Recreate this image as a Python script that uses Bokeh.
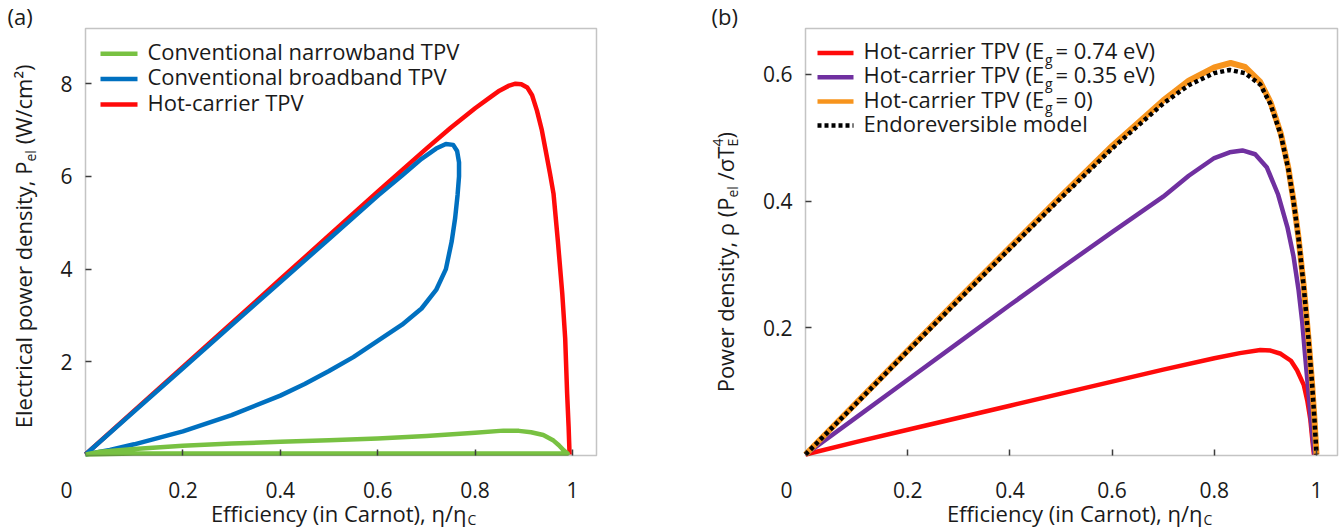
from bokeh.plotting import figure
from bokeh.models import (Label, Range1d, FixedTicker, NumeralTickFormatter, LinearAxis,
                          BoxAnnotation, Arrow)
from bokeh.layouts import row
from bokeh.embed import file_html
from bokeh.resources import INLINE

FONT = "Open Sans"
TXT = "#1a1a1a"
AXC = "#3d3d3d"

# ---------------- Panel (a) data ----------------
hot_x = [0, 0.1, 0.2, 0.3, 0.4, 0.5, 0.6, 0.7, 0.75, 0.8, 0.83, 0.85, 0.87, 0.883, 0.895,
         0.907, 0.917, 0.927, 0.937, 0.946, 0.954, 0.961, 0.970, 0.979, 0.985, 0.989, 0.992, 0.994]
hot_y = [0, 0.945, 1.89, 2.835, 3.78, 4.725, 5.67, 6.6, 7.05, 7.47, 7.7, 7.85, 7.96, 8.0, 7.99,
         7.92, 7.75, 7.42, 7.0, 6.5, 6.05, 5.63, 4.6, 3.47, 2.5, 1.31, 0.6, 0.0]

broad_x = [0, 0.1, 0.2, 0.3, 0.4, 0.5, 0.6, 0.65, 0.69, 0.72, 0.74, 0.755, 0.763, 0.767, 0.767,
           0.764, 0.759, 0.752, 0.74, 0.72, 0.69, 0.65, 0.6, 0.55, 0.5, 0.45, 0.4, 0.3, 0.2, 0.1, 0.05, 0]
broad_y = [0, 0.93, 1.86, 2.79, 3.72, 4.65, 5.58, 6.02, 6.38, 6.6, 6.7, 6.68, 6.55, 6.3, 6.0,
           5.6, 5.1, 4.6, 4.0, 3.55, 3.15, 2.8, 2.45, 2.1, 1.8, 1.52, 1.27, 0.85, 0.5, 0.22, 0.1, 0]

narrow_x = [0, 0.03, 0.1, 0.2, 0.3, 0.4, 0.5, 0.6, 0.7, 0.8, 0.858, 0.89, 0.915, 0.94, 0.961,
            0.972, 0.982, 0.988, 0.99, 0.97, 0.5, 0.1, 0]
narrow_y = [0, 0.06, 0.12, 0.19, 0.235, 0.275, 0.31, 0.345, 0.4, 0.47, 0.515, 0.51, 0.48, 0.42, 0.30,
            0.2, 0.09, 0.04, 0.02, 0.02, 0.02, 0.02, 0]

# ---------------- Panel (b) data ----------------
eg074_x = [0, 0.1, 0.2, 0.3, 0.4, 0.5, 0.6, 0.7, 0.8, 0.85, 0.89, 0.91, 0.93, 0.95, 0.962,
           0.975, 0.982, 0.988, 0.992, 0.995]
eg074_y = [0, 0.02, 0.039, 0.058, 0.077, 0.096, 0.115, 0.134, 0.152, 0.16, 0.165, 0.164, 0.159,
           0.148, 0.133, 0.11, 0.085, 0.055, 0.022, 0.0]

eg035_x = [0, 0.1, 0.2, 0.3, 0.4, 0.5, 0.6, 0.7, 0.75, 0.8, 0.83, 0.855, 0.88, 0.903, 0.925,
           0.943, 0.955, 0.965, 0.972, 0.978, 0.984, 0.989, 0.993, 0.996]
eg035_y = [0, 0.059, 0.118, 0.177, 0.236, 0.294, 0.351, 0.407, 0.44, 0.468, 0.477, 0.48, 0.474,
           0.453, 0.41, 0.359, 0.313, 0.259, 0.21, 0.154, 0.1, 0.055, 0.022, 0.0]

eg0_x = [0, 0.1, 0.2, 0.3, 0.4, 0.5, 0.6, 0.7, 0.75, 0.8, 0.832, 0.86, 0.89, 0.91, 0.93, 0.945,
         0.955, 0.965, 0.975, 0.984, 0.991, 0.996, 1.0]
eg0_y = [0, 0.082, 0.164, 0.246, 0.327, 0.408, 0.487, 0.559, 0.59, 0.611, 0.618, 0.612, 0.588,
         0.556, 0.507, 0.452, 0.401, 0.341, 0.266, 0.186, 0.116, 0.056, 0.0]

endo_x = [0, 0.1, 0.2, 0.3, 0.4, 0.5, 0.6, 0.7, 0.75, 0.8, 0.83, 0.86, 0.89, 0.91, 0.93, 0.945,
          0.955, 0.965, 0.975, 0.984, 0.991, 0.996, 1.0]
endo_y = [0, 0.081, 0.163, 0.244, 0.325, 0.405, 0.483, 0.554, 0.583, 0.602, 0.607, 0.602, 0.584,
          0.553, 0.505, 0.45, 0.40, 0.34, 0.265, 0.185, 0.115, 0.055, 0.0]

x_ticks = [0.2, 0.4, 0.6, 0.8, 1.0]
ya_ticks = [2, 4, 6, 8]
yb_ticks = [0.2, 0.4, 0.6]

legend_a = ["Conventional narrowband TPV", "Conventional broadband TPV", "Hot-carrier TPV"]
legend_b_head = ["Hot-carrier TPV (E", "Hot-carrier TPV (E", "Hot-carrier TPV (E", "Endoreversible model"]
legend_b_tail = ["= 0.74 eV)", "= 0.35 eV)", "= 0)", None]

C_GREEN = "#78c142"
C_BLUE = "#0070c0"
C_RED = "#ff0a0a"
C_PURPLE = "#7030a0"
C_ORANGE = "#f7941d"

H = 530
HALF_PI = 1.5707963267948966
BASE_FIX = 0.4  # renderer draws alphabetic baseline ~0.4em lower than the anchor


class Panel:
    """Figure whose frame covers the whole canvas; px/py are page pixels."""

    def __init__(self, width, ox, oy, sx, sy, box_r, box_t, box_b, yticks):
        self.ox, self.oy, self.sx, self.sy = ox, oy, sx, sy
        self.p = p = figure(frame_width=width, frame_height=H,
                            min_border_left=0, min_border_right=0,
                            min_border_top=0, min_border_bottom=0,
                            x_range=Range1d(-ox / sx, (width - ox) / sx),
                            y_range=Range1d(-(H - oy) / sy, oy / sy),
                            x_axis_location=None, y_axis_location=None,
                            output_backend="svg", toolbar_location=None)
        p.outline_line_color = None
        p.background_fill_color = "white"
        p.border_fill_color = "white"
        for g in p.grid:
            g.visible = False
        p.add_layout(BoxAnnotation(left=0, right=box_r, bottom=box_b, top=box_t,
                                   fill_alpha=0, line_color=AXC, line_width=1.5))
        xa = LinearAxis(fixed_location=box_b, ticker=FixedTicker(ticks=x_ticks),
                        formatter=NumeralTickFormatter(format="0.[0]"))
        ya = LinearAxis(fixed_location=0, ticker=FixedTicker(ticks=yticks),
                        formatter=NumeralTickFormatter(format="0.[0]"))
        for ax in (xa, ya):
            ax.axis_line_color = None
            ax.major_tick_line_color = AXC
            ax.major_tick_line_width = 1.5
            ax.major_tick_in = 6
            ax.major_tick_out = 0
            ax.minor_tick_line_color = None
            ax.major_label_text_font = FONT
            ax.major_label_text_font_size = "21px"
            ax.major_label_text_color = TXT
        xa.major_label_standoff = 26
        ya.major_label_standoff = 13
        p.add_layout(xa, "below")
        p.add_layout(ya, "left")

    def text(self, px, py, text, size, align="left", baseline="alphabetic", angle=0.0):
        # px/py: wanted page position of the text's baseline anchor
        if baseline == "alphabetic":
            if angle == 0.0:
                py -= BASE_FIX * size
            else:
                px -= BASE_FIX * size
        self.p.add_layout(Label(x=0, y=0, x_offset=px - self.ox, y_offset=self.oy - py,
                                text=text, text_font=FONT, text_font_size=f"{size}px",
                                text_color=TXT, text_align=align, text_baseline=baseline,
                                angle=angle))

    def swatch(self, px0, px1, py, color, width, dash="solid"):
        y = (self.oy - py) / self.sy
        self.p.add_layout(Arrow(end=None, x_start=(px0 - self.ox) / self.sx, y_start=y,
                                x_end=(px1 - self.ox) / self.sx, y_end=y,
                                line_color=color, line_width=width, line_dash=dash))


# ---------------- Figure (a) ----------------
A = Panel(700, 85, 454, 487.0, 46.35, 1.049281, 9.190939, -0.021575, ya_ticks)
pa = A.p
pa.line(hot_x, hot_y, line_color=C_RED, line_width=4.5, line_join="round")
pa.line(broad_x, broad_y, line_color=C_BLUE, line_width=4.5, line_join="round")
pa.line(narrow_x, narrow_y, line_color=C_GREEN, line_width=4.5, line_join="round")

for i, (name, col) in enumerate(zip(legend_a, [C_GREEN, C_BLUE, C_RED])):
    base = 59.3 + 25.3 * i
    A.swatch(100, 137, base - 6, col, 4.5)
    A.text(147, base, name, 22)

A.text(7, 24, "(a)", 22)
A.text(66, 481, "0", 21, align="center", baseline="top")
A.text(466, 521, "Efficiency (in Carnot), η/η", 22, align="right")
A.text(467, 525, "C", 14)
A.text(31, 161, "Electrical power density, P", 22, align="right", angle=HALF_PI)
A.text(36, 161, "el", 14, align="left", angle=HALF_PI)
A.text(31, 143.8, "(W/cm²)", 22, align="left", angle=HALF_PI)

# ---------------- Figure (b) ----------------
B = Panel(642, 105, 454, 511.0, 633.5, 1.041096, 0.672455, -0.001579, yb_ticks)
pb = B.p
pb.line(eg074_x, eg074_y, line_color=C_RED, line_width=4.5, line_join="round")
pb.line(eg035_x, eg035_y, line_color=C_PURPLE, line_width=4.5, line_join="round")
pb.line(eg0_x, eg0_y, line_color=C_ORANGE, line_width=6, line_join="round")
pb.line(endo_x, endo_y, line_color="black", line_width=4.5, line_dash="4 3")

OFF = 700  # page x of panel (b) = 700 + figure x
b_cols = [C_RED, C_PURPLE, C_ORANGE, "black"]
for i, (head, tail, col) in enumerate(zip(legend_b_head, legend_b_tail, b_cols)):
    base = 58.5 + 24.2 * i
    if col == "black":
        B.swatch(817 - OFF, 853 - OFF, base - 6, col, 4.5, "4 3")
    else:
        B.swatch(817 - OFF, 853 - OFF, base - 6, col, 4.5)
    B.text(863 - OFF, base, head, 22)
    if tail is not None:
        B.text(1044.5 - OFF, base + 6, "g", 14)
        B.text(1055 - OFF, base, tail, 22)

B.text(711 - OFF, 24, "(b)", 22)
B.text(786 - OFF, 481, "0", 21, align="center", baseline="top")
B.text(1202 - OFF, 521, "Efficiency (in Carnot), η/η", 22, align="right")
B.text(1203 - OFF, 525, "C", 14)
B.text(733 - OFF, 197, "Power density, ρ (P", 22, align="right", angle=HALF_PI)
B.text(738 - OFF, 197, "el", 14, align="left", angle=HALF_PI)
B.text(733 - OFF, 179.8, "/σT", 22, align="left", angle=HALF_PI)
B.text(738 - OFF, 146, "E", 14, align="left", angle=HALF_PI)
B.text(723 - OFF, 146, "4", 14, align="left", angle=HALF_PI)
B.text(733 - OFF, 138, ")", 22, align="left", angle=HALF_PI)

layout = row(pa, pb)
open("out.html", "w").write(file_html(layout, INLINE))
